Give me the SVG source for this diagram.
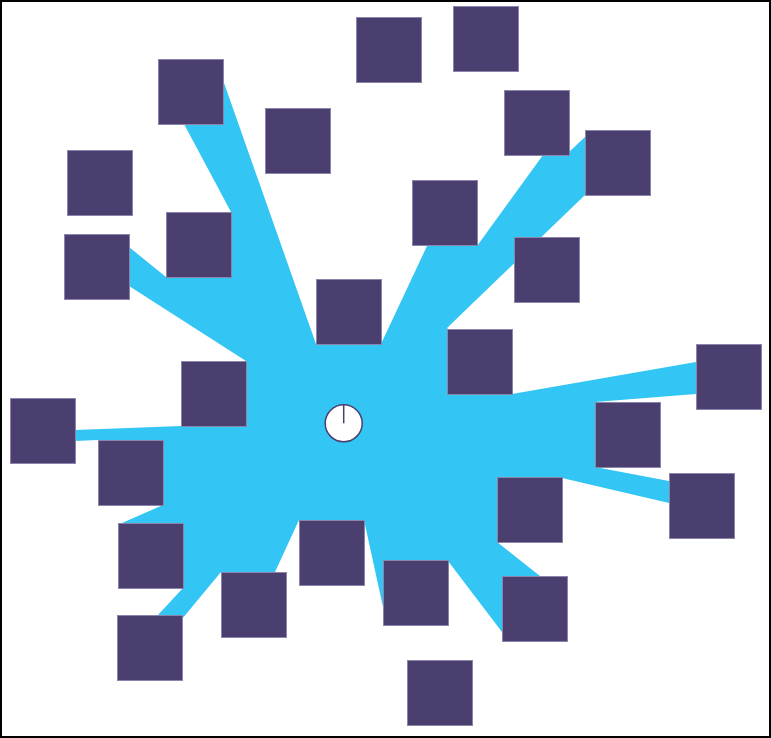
<svg xmlns="http://www.w3.org/2000/svg" width="771" height="738" viewBox="0 0 771 738">
<style>
.n{fill:#4a3f6f;stroke:#8c84aa;stroke-width:1}
.blob{fill:#33c5f3;stroke:none}
</style>
<rect x="0" y="0" width="771" height="738" fill="#ffffff"/>
<g id="connectors">
<polygon class="blob" points="129,247 166,277 231,212 184,124 223,80 316,344 381,344 427,246 477,246 543,155 569,152 585,137 585,195 447,328 512,394 696,362 696,394 595,402 595,467 669,481 669,503 562,478 497,542 540,576 502,632 448,561 383,607 364,520 299,520 275,572 221,572 182,619 158,615 183,588 122,523 163,505 98,440 75,441 75,430 181,426 246,361 129,286"/>
</g>
<g id="nodeA"><rect class="n" x="158.5" y="59.5" width="65" height="65"/></g>
<g id="nodeB"><rect class="n" x="67.5" y="150.5" width="65" height="65"/></g>
<g id="nodeC"><rect class="n" x="64.5" y="234.5" width="65" height="65"/></g>
<g id="nodeD"><rect class="n" x="166.5" y="212.5" width="65" height="65"/></g>
<g id="nodeE"><rect class="n" x="356.5" y="17.5" width="65" height="65"/></g>
<g id="nodeF"><rect class="n" x="453.5" y="6.5" width="65" height="65"/></g>
<g id="nodeG"><rect class="n" x="504.5" y="90.5" width="65" height="65"/></g>
<g id="nodeH"><rect class="n" x="585.5" y="130.5" width="65" height="65"/></g>
<g id="nodeI"><rect class="n" x="265.5" y="108.5" width="65" height="65"/></g>
<g id="nodeJ"><rect class="n" x="412.5" y="180.5" width="65" height="65"/></g>
<g id="nodeK"><rect class="n" x="514.5" y="237.5" width="65" height="65"/></g>
<g id="nodeL"><rect class="n" x="316.5" y="279.5" width="65" height="65"/></g>
<g id="nodeM"><rect class="n" x="447.5" y="329.5" width="65" height="65"/></g>
<g id="nodeN"><rect class="n" x="696.5" y="344.5" width="65" height="65"/></g>
<g id="nodeO"><rect class="n" x="595.5" y="402.5" width="65" height="65"/></g>
<g id="nodeP"><rect class="n" x="669.5" y="473.5" width="65" height="65"/></g>
<g id="nodeQ"><rect class="n" x="497.5" y="477.5" width="65" height="65"/></g>
<g id="nodeR"><rect class="n" x="502.5" y="576.5" width="65" height="65"/></g>
<g id="nodeS"><rect class="n" x="383.5" y="560.5" width="65" height="65"/></g>
<g id="nodeT"><rect class="n" x="10.5" y="398.5" width="65" height="65"/></g>
<g id="nodeU"><rect class="n" x="98.5" y="440.5" width="65" height="65"/></g>
<g id="nodeV"><rect class="n" x="181.5" y="361.5" width="65" height="65"/></g>
<g id="nodeW"><rect class="n" x="118.5" y="523.5" width="65" height="65"/></g>
<g id="nodeX"><rect class="n" x="117.5" y="615.5" width="65" height="65"/></g>
<g id="nodeY"><rect class="n" x="221.5" y="572.5" width="65" height="65"/></g>
<g id="nodeZ"><rect class="n" x="299.5" y="520.5" width="65" height="65"/></g>
<g id="nodeBottom"><rect class="n" x="407.5" y="660.5" width="65" height="65"/></g>
<g id="center">
<circle cx="343.7" cy="423.3" r="18.5" fill="#ffffff" stroke="#4a3f6f" stroke-width="1.5"/>
<line x1="343.7" y1="423.3" x2="343.7" y2="405" stroke="#4a3f6f" stroke-width="1.5"/>
</g>
<rect x="1" y="1" width="769" height="736" fill="none" stroke="#000000" stroke-width="2"/>
</svg>
